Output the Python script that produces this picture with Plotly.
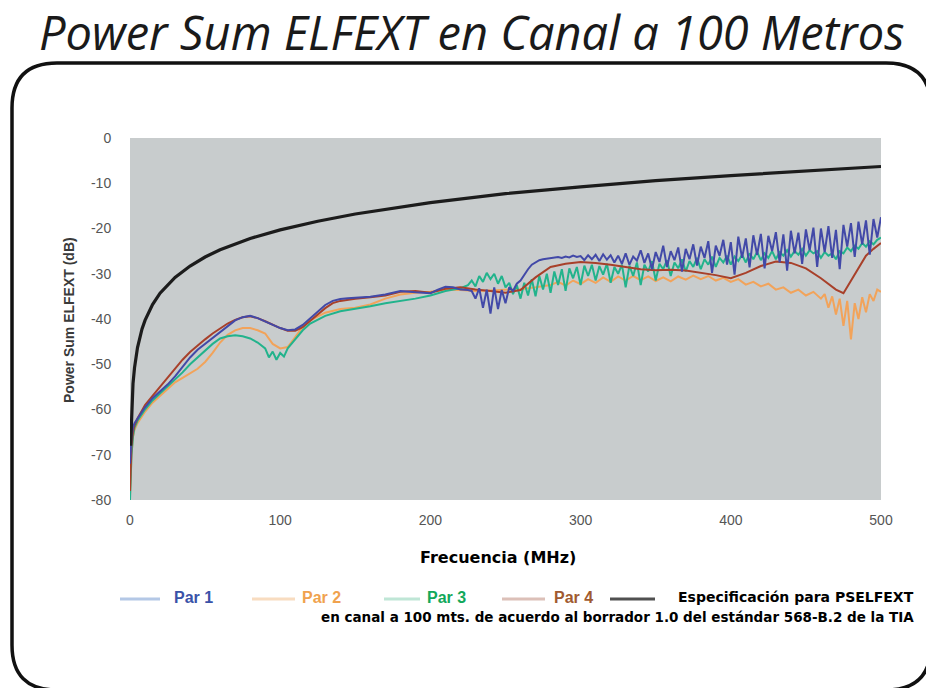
import plotly.graph_objects as go

# ---------------- data ----------------
freq_spec = [0.4, 1, 2, 3, 5, 8, 10, 15, 20, 30, 40, 50, 60, 80, 100, 125, 150, 200,
             250, 300, 350, 400, 450, 500]
spec_db = [-68, -60.3, -54.3, -50.8, -46.3, -42.2, -40.3, -36.8, -34.3, -30.8, -28.3,
           -26.3, -24.7, -22.2, -20.3, -18.4, -16.8, -14.3, -12.3, -10.8, -9.4, -8.3,
           -7.3, -6.3]

freq_par1 = [0, 1, 2, 3, 5, 8, 10, 15, 20, 25, 30, 35, 40, 45, 50, 55, 60, 65, 70, 75, 80,
             85, 90, 95, 100, 105, 110, 115, 120, 125, 130, 135, 140, 145, 150, 160, 170,
             180, 190, 200, 205, 210, 215, 220, 225,
             227.5, 230, 232.5, 235, 237.5, 240, 242.5, 245, 247.5, 250, 252.5, 255, 257.5,
             260, 262.5, 265, 267.5, 270, 272.5, 275, 277.5, 280, 282.5, 285, 287.5, 290,
             292.5, 295, 297.5, 300, 302.5, 305, 307.5, 310, 312.5, 315, 317.5, 320, 322.5,
             325, 327.5, 330, 332.5, 335, 337.5, 340, 342.5, 345, 347.5, 350, 352.5, 355,
             357.5, 360, 362.5, 365, 367.5, 370, 372.5, 375, 377.5, 380, 382.5, 385, 387.5,
             390, 392.5, 395, 397.5, 400, 402.5, 405, 407.5, 410, 412.5, 415, 417.5, 420,
             422.5, 425, 427.5, 430, 432.5, 435, 437.5, 440, 442.5, 445, 447.5, 450, 452.5,
             455, 457.5, 460, 462.5, 465, 467.5, 470, 472.5, 475, 477.5, 480, 482.5, 485,
             487.5, 490, 492.5, 495, 497.5, 500]
par1_db = [-72, -66, -64, -63, -62, -60.5, -59.5, -57.5, -56, -54.5, -52.7, -50.5, -48.5,
           -46.8, -45.5, -44, -42.8, -41.5, -40.3, -39.6, -39.3, -39.8, -40.5, -41.3, -42,
           -42.5, -42.3, -41.3, -39.8, -38.3, -36.9, -36, -35.6, -35.4, -35.3, -35.1, -34.6,
           -33.8, -34.1, -34.3, -33.5, -32.9, -33, -33.5, -33.6,
           -33.8, -35.5, -33.2, -37.5, -33.5, -38.8, -33.0, -37.8, -33.6, -36.5, -33.0, -33.8,
           -32.2, -31.5, -30.2, -29.0, -28.0, -27.4, -27.0, -26.8, -26.7, -26.5, -26.4, -26.3,
           -26.5, -26.2, -26.4, -26.0, -26.3, -26.1, -27.0, -25.9, -26.8, -25.8, -27.2, -25.7,
           -26.9, -25.9, -27.5, -26.0, -27.8, -25.5, -28.0, -26.2, -27.1, -24.8, -27.6, -25.5,
           -29.0, -25.2, -27.4, -23.8, -28.5, -25.0, -27.0, -24.2, -29.5, -24.5, -26.8, -23.5,
           -28.2, -24.0, -26.5, -22.8, -29.8, -23.8, -26.0, -22.5, -28.0, -23.0, -30.2, -21.8,
           -26.5, -22.2, -28.6, -21.5, -25.8, -21.2, -28.8, -21.6, -25.0, -20.8, -27.5, -21.3,
           -29.3, -20.5, -25.5, -20.9, -27.8, -20.2, -24.8, -19.8, -28.5, -20.0, -25.2, -19.5,
           -26.5, -20.3, -29.0, -19.2, -24.0, -18.8, -26.3, -18.5, -23.5, -18.2, -25.8, -17.9,
           -22.0, -17.5]

freq_par2 = [0, 1, 2, 3, 5, 8, 10, 15, 20, 25, 30, 35, 40, 45, 50, 55, 60, 65, 70, 75, 80,
             85, 90, 95, 100, 105, 110, 115, 120, 130, 140, 150, 160, 170, 180, 190, 200,
             210, 220, 230, 240, 250, 260, 270, 280,
             285, 290, 295, 300, 305, 310, 315, 320, 325, 330, 335, 340, 345, 350, 355, 360,
             365, 370, 375, 380, 385, 390, 395, 400, 405, 410, 415, 420, 425, 430, 435, 440,
             445, 450, 455, 460, 462.5, 465, 467.5, 470, 472.5, 475, 477.5, 480, 482.5, 485,
             487.5, 490, 492.5, 495, 497.5, 500]
par2_db = [-79, -70, -66, -64.5, -63, -61.5, -60.5, -58.5, -57, -55.5, -54, -53, -52, -51,
           -49.5, -47.5, -45.2, -43.5, -42.5, -42, -42, -42.5, -43.2, -45.5, -46.5, -46.2,
           -44, -41.7, -40.3, -38.6, -37.8, -37.5, -36.8, -35.5, -34.6, -34.2, -34.0, -33.5,
           -33.6, -33.8, -33.7, -33.6, -33.4, -33.0, -32.5,
           -31.8, -32.6, -31.5, -32.3, -31.2, -32.0, -30.8, -31.8, -30.6, -31.5, -30.5, -31.4,
           -30.6, -31.6, -30.8, -31.7, -30.6, -31.3, -30.4, -31.2, -30.5, -31.5, -30.9, -31.8,
           -31.2, -32.4, -31.8, -32.8, -32.2, -33.5, -33.0, -34.2, -33.5, -34.8, -34.0, -35.5,
           -34.5, -37.5, -35.0, -39.0, -35.5, -41.5, -36.0, -44.5, -36.5, -40.0, -35.2, -38.5,
           -34.5, -36.0, -33.5, -34.0]

freq_par3 = [0, 1, 2, 3, 5, 8, 10, 15, 20, 25, 30, 35, 40, 45, 50, 55, 60, 65, 70, 75, 80,
             85, 90, 92.5, 95, 97.5, 100, 102.5, 105, 110, 115, 120, 130, 140, 150, 160, 170,
             180, 190, 200, 210, 220,
             225, 227.5, 230, 232.5, 235, 237.5, 240, 242.5, 245, 247.5, 250, 252.5, 255,
             257.5, 260, 262.5, 265, 267.5, 270, 272.5, 275, 277.5, 280, 282.5, 285, 287.5,
             290, 292.5, 295, 297.5, 300, 302.5, 305, 307.5, 310, 312.5, 315, 317.5, 320,
             322.5, 325, 327.5, 330, 332.5, 335, 337.5, 340, 342.5, 345, 347.5, 350, 352.5,
             355, 357.5, 360, 362.5, 365, 367.5, 370, 372.5, 375, 377.5, 380, 382.5, 385,
             387.5, 390, 392.5, 395, 397.5, 400, 402.5, 405, 407.5, 410, 412.5, 415, 417.5,
             420, 422.5, 425, 427.5, 430, 432.5, 435, 437.5, 440, 442.5, 445, 447.5, 450,
             452.5, 455, 457.5, 460, 462.5, 465, 467.5, 470, 472.5, 475, 477.5, 480, 482.5,
             485, 487.5, 490, 492.5, 495, 497.5, 500]
par3_db = [-80, -70, -66, -64, -62.5, -61, -60, -58, -56.5, -55, -53.5, -51.8, -50, -48.5,
           -47, -45.5, -44.3, -43.8, -43.6, -43.8, -44.3, -45.2, -46.5, -48.5, -47.2, -49,
           -47.5, -48.3, -46.5, -44.5, -42.5, -41, -39.3, -38.3, -37.8, -37.2, -36.5, -36,
           -35.5, -34.8, -33.8, -33.2,
           -32.5, -31.5, -32.8, -30.5, -31.8, -29.8, -31.2, -30.0, -32.2, -30.5, -33.0, -32.0,
           -34.5, -32.5, -35.5, -32.0, -34.8, -31.2, -35.0, -30.5, -33.5, -30.0, -34.2, -29.5,
           -32.5, -29.0, -33.8, -28.8, -31.0, -28.5, -32.5, -28.2, -30.5, -28.0, -31.5, -28.3,
           -30.2, -27.8, -32.0, -28.5, -30.0, -28.0, -33.0, -28.2, -30.5, -27.5, -32.5, -28.0,
           -29.5, -27.2, -31.5, -27.8, -29.0, -27.0, -30.5, -27.5, -28.8, -26.8, -29.5, -27.2,
           -28.5, -26.5, -29.0, -26.8, -28.0, -26.2, -28.5, -26.5, -27.5, -26.0, -28.0, -26.2,
           -27.2, -25.8, -27.5, -25.5, -26.8, -25.2, -27.0, -25.5, -26.5, -25.0, -26.8, -25.2,
           -26.0, -24.8, -26.2, -25.0, -25.8, -24.5, -26.0, -24.8, -25.5, -25.0, -26.5, -25.2,
           -26.0, -25.5, -26.8, -25.0, -25.5, -24.2, -25.0, -23.8, -24.5, -23.2, -24.0, -22.8,
           -23.5, -22.5, -22.0]

freq_par4 = [0, 1, 2, 3, 5, 8, 10, 15, 20, 25, 30, 35, 40, 45, 50, 55, 60, 65, 70, 75, 80,
             85, 90, 95, 100, 105, 110, 115, 120, 125, 130, 135, 140, 150, 160, 170, 180,
             190, 200, 210, 220, 230, 240, 250, 260, 270, 280, 290, 300, 310, 320, 330, 340,
             350, 360, 370, 380, 390, 400, 410, 420, 430, 440, 450, 460, 465, 470, 475, 480,
             485, 490, 495, 500]
par4_db = [-78, -68, -65, -63.5, -62, -60, -59, -57, -55, -53, -51, -49, -47.3, -45.8, -44.5,
           -43.2, -42, -41, -40.2, -39.6, -39.4, -39.8, -40.5, -41.3, -42, -42.6, -42.6,
           -41.8, -40.5, -39, -37.6, -36.5, -36, -35.5, -35.2, -34.8, -34, -33.8, -34.2,
           -33.3, -33.0, -33.5, -33.8, -34.2, -33.6, -30.8, -28.5, -27.8, -27.4, -27.6,
           -28.0, -28.5, -29.0, -29.2, -29.1, -29.3, -29.8, -30.3, -31.0, -29.8, -28.3,
           -27.3, -27.6, -28.8, -31.0, -32.3, -33.5, -34.3, -31.5, -28.5, -26.0, -24.5, -23.2]

series_names = ["Par 1", "Par 2", "Par 3", "Par 4"]
line_colors = ["#4249a8", "#f2a35a", "#22b38c", "#a8402a"]
text_colors = ["#3a52a8", "#f0a24e", "#12a85a", "#a05a30"]
swatch_colors = ["#b4c8e6", "#f8dcc0", "#bfe6d6", "#dcc0b8"]
spec_name_1 = "Especificación para PSELFEXT"
spec_name_2 = "en canal a 100 mts. de acuerdo al borrador 1.0 del estándar 568-B.2 de la TIA"

x_ticks = [0, 100, 200, 300, 400, 500]
y_ticks = [0, -10, -20, -30, -40, -50, -60, -70, -80]

title_text = "Power Sum ELFEXT en Canal a 100 Metros"
x_title = "Frecuencia (MHz)"
y_title = "Power Sum ELFEXT (dB)"

# ---------------- layout geometry (pixels) ----------------
W, H = 926, 688
L, R, T, B = 130, 881, 138, 500


def px(x):
    return (x - L) / (R - L)


def py(y):
    return (B - y) / (B - T)


fig = go.Figure()
freqs = [freq_par1, freq_par2, freq_par3, freq_par4]
vals = [par1_db, par2_db, par3_db, par4_db]
for i in [1, 2, 3, 0]:  # orange, green, brown, blue on top
    fig.add_trace(go.Scatter(x=freqs[i], y=vals[i], mode="lines", name=series_names[i],
                             line=dict(color=line_colors[i], width=2), showlegend=False))
fig.add_trace(go.Scatter(x=freq_spec, y=spec_db, mode="lines", name=spec_name_1,
                         line=dict(color="#1c1c1c", width=3.2), showlegend=False))

shapes = []
# rounded frame
x0, y0, x1, y1, r = 12, 63, 931, 690, 45
pts = [("M", x0 + r, y0), ("L", x1 - r, y0), ("Q", x1, y0, x1, y0 + r), ("L", x1, y1 - r),
       ("Q", x1, y1, x1 - r, y1), ("L", x0 + r, y1), ("Q", x0, y1, x0, y1 - r),
       ("L", x0, y0 + r), ("Q", x0, y0, x0 + r, y0)]
path = ""
for p in pts:
    seg = p[0]
    coords = p[1:]
    for k in range(0, len(coords), 2):
        seg += f"{px(coords[k]):.5f},{py(coords[k+1]):.5f} "
    path += seg
path += "Z"
shapes.append(dict(type="path", xref="paper", yref="paper", path=path,
                   line=dict(color="#111111", width=3.5), layer="above"))

annotations = []
# title
annotations.append(dict(text=title_text, xref="paper", yref="paper", x=px(471), y=py(32),
                        xanchor="center", yanchor="middle", showarrow=False,
                        font=dict(family="Open Sans", size=47, color="#1a1a1a", style="italic")))
# axis titles
annotations.append(dict(text=f"<b>{y_title}</b>", xref="paper", yref="paper", x=px(69), y=py(320),
                        textangle=-90, showarrow=False, xanchor="center", yanchor="middle",
                        font=dict(family="Liberation Sans", size=14, color="#3a3a3a")))
annotations.append(dict(text=f"<b>{x_title}</b>", xref="paper", yref="paper", x=px(498), y=py(557),
                        showarrow=False, xanchor="center", yanchor="middle",
                        font=dict(family="DejaVu Sans", size=16, color="#000000")))

# legend (manual)
leg_y = 597
sw = [(120, 160, 172), (252, 295, 300), (384, 420, 425), (502, 545, 552)]
for i in range(4):
    a, b, t = sw[i]
    shapes.append(dict(type="line", xref="paper", yref="paper", x0=px(a), x1=px(b),
                       y0=py(leg_y + 2), y1=py(leg_y + 2),
                       line=dict(color=swatch_colors[i], width=3)))
    annotations.append(dict(text=f"<b>{series_names[i]}</b>", xref="paper", yref="paper",
                            x=px(t), y=py(leg_y), xanchor="left", yanchor="middle",
                            showarrow=False,
                            font=dict(family="Liberation Sans", size=16, color=text_colors[i])))
shapes.append(dict(type="line", xref="paper", yref="paper", x0=px(610), x1=px(655),
                   y0=py(leg_y + 2), y1=py(leg_y + 2), line=dict(color="#505050", width=3)))
annotations.append(dict(text=f"<b>{spec_name_1}</b>", xref="paper", yref="paper",
                        x=px(916), y=py(leg_y), xanchor="right", yanchor="middle", showarrow=False,
                        font=dict(family="DejaVu Sans", size=14, color="#000000")))
annotations.append(dict(text=f"<b>{spec_name_2}</b>", xref="paper", yref="paper",
                        x=px(916), y=py(leg_y + 20), xanchor="right", yanchor="middle",
                        showarrow=False,
                        font=dict(family="DejaVu Sans", size=13.5, color="#000000")))

fig.update_layout(
    width=W, height=H,
    margin=dict(l=L, r=W - R, t=T, b=H - B, pad=0),
    paper_bgcolor="#ffffff",
    plot_bgcolor="#c8cccd",
    showlegend=False,
    shapes=shapes,
    annotations=annotations,
    xaxis=dict(range=[0, 500], tickvals=x_ticks, ticktext=[str(v) for v in x_ticks],
               showgrid=False, zeroline=False, showline=False,
               ticks="outside", ticklen=7, tickcolor="rgba(0,0,0,0)",
               tickfont=dict(family="Liberation Sans", size=14, color="#555555")),
    yaxis=dict(range=[-80, 0], tickvals=y_ticks, ticktext=[str(v) for v in y_ticks],
               showgrid=False, zeroline=False, showline=False,
               ticks="outside", ticklen=15, tickcolor="rgba(0,0,0,0)",
               tickfont=dict(family="Liberation Sans", size=14, color="#555555")),
)

fig.write_html("out.html")
